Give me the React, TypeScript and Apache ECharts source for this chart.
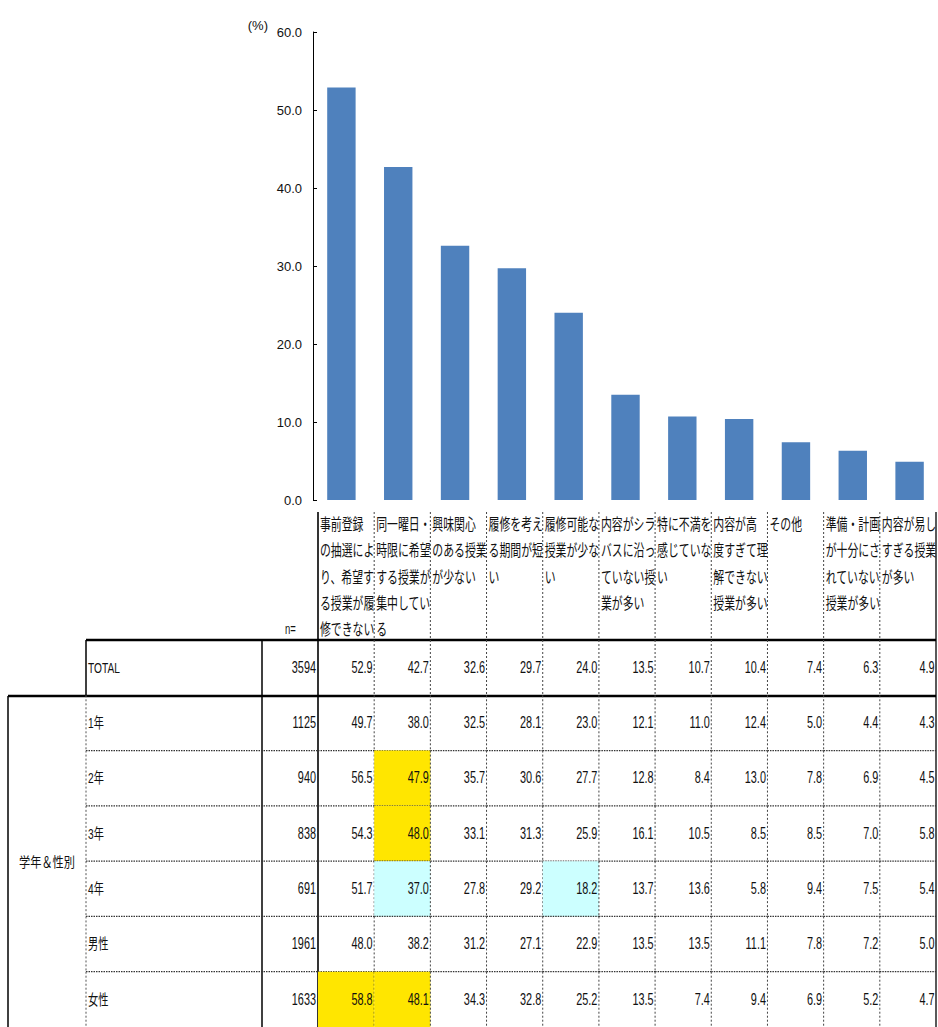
import React, { useEffect, useRef } from "react";
import * as echarts from "echarts";

// ---------------- data ----------------
const categories = [
  "事前登録\nの抽選によ\nり、希望す\nる授業が履\n修できない",
  "同一曜日・\n時限に希望\nする授業が\n集中してい\nる",
  "興味関心\nのある授業\nが少ない",
  "履修を考え\nる期間が短\nい",
  "履修可能な\n授業が少な\nい",
  "内容がシラ\nバスに沿っ\nていない授\n業が多い",
  "特に不満を\n感じていな\nい",
  "内容が高\n度すぎて理\n解できない\n授業が多い",
  "その他",
  "準備・計画\nが十分にさ\nれていない\n授業が多い",
  "内容が易し\nすぎる授業\nが多い",
];
const rowLabels = ["TOTAL", "1年", "2年", "3年", "4年", "男性", "女性"];
const rowN = [3594, 1125, 940, 838, 691, 1961, 1633];
const totalValues = [52.9, 42.7, 32.6, 29.7, 24.0, 13.5, 10.7, 10.4, 7.4, 6.3, 4.9];
const year1Values = [49.7, 38.0, 32.5, 28.1, 23.0, 12.1, 11.0, 12.4, 5.0, 4.4, 4.3];
const year2Values = [56.5, 47.9, 35.7, 30.6, 27.7, 12.8, 8.4, 13.0, 7.8, 6.9, 4.5];
const year3Values = [54.3, 48.0, 33.1, 31.3, 25.9, 16.1, 10.5, 8.5, 8.5, 7.0, 5.8];
const year4Values = [51.7, 37.0, 27.8, 29.2, 18.2, 13.7, 13.6, 5.8, 9.4, 7.5, 5.4];
const maleValues = [48.0, 38.2, 31.2, 27.1, 22.9, 13.5, 13.5, 11.1, 7.8, 7.2, 5.0];
const femaleValues = [58.8, 48.1, 34.3, 32.8, 25.2, 13.5, 7.4, 9.4, 6.9, 5.2, 4.7];
const groupLabel = "学年＆性別";
const unitLabel = "(%)";
const nLabel = "n=";
const yMin = 0;
const yMax = 60;
const yInterval = 10;

const tableRows = [totalValues, year1Values, year2Values, year3Values, year4Values, maleValues, femaleValues];

// ---------------- layout / style ----------------
const W = 938;
const H = 1027;
const PLOT_LEFT = 313;
const PLOT_TOP = 32;
const PLOT_W = 626;
const PLOT_H = 468;
const HEAD_TOP = 512;
const TABLE_LEFT = 318;
const TABLE_W = 618;
const TABLE_TOP = 640;
const ROW_H = 56;
const N_LEFT = 262;
const LABEL_LEFT = 86;
const GROUP_LEFT = 8;
const HEAD_LINE0 = 523;
const HEAD_LINE_H = 26.3;

const BAR_COLOR = "#4F81BD";
const YELLOW = "#FFE600";
const CYAN = "#CCFFFF";
const TEXT = "#111";
const NUM_FONT = "'Liberation Sans', Arial, 'Noto Sans CJK JP', sans-serif";
const JP_FONT = "'Noto Sans CJK JP', sans-serif";
const JP_SCALE = 0.68;
const NUM_SCALE = 0.68;

function txt(x: number, y: number, text: string, align: string, opts: any = {}) {
  return {
    type: "text",
    x,
    y,
    scaleX: opts.scaleX ?? NUM_SCALE,
    silent: true,
    style: {
      text,
      align,
      textAlign: align,
      verticalAlign: "middle",
      textVerticalAlign: "middle",
      fontSize: opts.fontSize ?? 16,
      fontFamily: opts.fontFamily ?? NUM_FONT,
      fill: TEXT,
    },
  };
}

function vline(x: number, y1: number, y2: number, dash: any, w = 1, color = "#333") {
  return {
    type: "line",
    silent: true,
    shape: { x1: x, y1, x2: x, y2 },
    style: { stroke: color, lineWidth: w, lineDash: dash },
  };
}
function hline(y: number, x1: number, x2: number, dash: any, w = 1, color = "#333") {
  return {
    type: "line",
    silent: true,
    shape: { x1, y1: y, x2, y2: y },
    style: { stroke: color, lineWidth: w, lineDash: dash },
  };
}

export default function App() {
  const ref = useRef<HTMLDivElement>(null);
  useEffect(() => {
    document.body.style.margin = "0";
    const chart = echarts.init(ref.current!, null, { renderer: "svg" });
    const nCols = categories.length;
    const nRows = rowLabels.length;

    const cellData: any[] = [];
    tableRows.forEach((row, r) => {
      row.forEach((v, c) => {
        const diff = v - totalValues[c];
        const hl = r === 0 ? 0 : diff >= 5 ? 1 : diff <= -5 ? 2 : 0;
        cellData.push([c, r, v, hl]);
      });
    });

    const option: any = {
      animation: false,
      backgroundColor: "#fff",
      grid: [
        { left: PLOT_LEFT, top: PLOT_TOP, width: PLOT_W, height: PLOT_H, containLabel: false },
        { left: TABLE_LEFT, top: TABLE_TOP, width: TABLE_W, height: ROW_H * nRows, containLabel: false },
      ],
      xAxis: [
        {
          type: "category",
          gridIndex: 0,
          data: categories,
          axisLine: { show: false },
          axisTick: { show: false },
          axisLabel: { show: false },
        },
        {
          type: "category",
          gridIndex: 1,
          data: categories,
          show: false,
        },
      ],
      yAxis: [
        {
          type: "value",
          gridIndex: 0,
          min: yMin,
          max: yMax,
          interval: yInterval,
          name: unitLabel,
          nameLocation: "end",
          nameGap: 7,
          nameTextStyle: {
            align: "right",
            verticalAlign: "middle",
            padding: [0, 45, 0, 0],
            fontSize: 13,
            fontFamily: NUM_FONT,
            color: TEXT,
          },
          axisLine: { show: true, lineStyle: { color: "#000", width: 1 } },
          axisTick: { show: true, inside: true, length: 4, lineStyle: { color: "#000" } },
          splitLine: { show: false },
          axisLabel: {
            margin: 11,
            fontSize: 13,
            fontFamily: NUM_FONT,
            color: TEXT,
            formatter: (v: number) => v.toFixed(1),
          },
        },
        {
          type: "category",
          gridIndex: 1,
          data: rowLabels,
          inverse: true,
          show: false,
        },
      ],
      series: [
        {
          type: "bar",
          xAxisIndex: 0,
          yAxisIndex: 0,
          data: totalValues,
          barWidth: "50%",
          itemStyle: { color: BAR_COLOR },
        },
        {
          // header labels of the table
          type: "custom",
          xAxisIndex: 1,
          yAxisIndex: 1,
          data: categories.map((_, c) => [c, 0]),
          renderItem: (params: any, api: any) => {
            const c = api.value(0);
            const p = api.coord([c, 0]);
            const s = api.size([1, 1]);
            const x0 = p[0] - s[0] / 2;
            const children: any[] = [];
            categories[c].split("\n").forEach((line, i) => {
              children.push(
                txt(x0 + 2, HEAD_LINE0 + i * HEAD_LINE_H, line, "left", {
                  fontFamily: JP_FONT,
                  fontSize: 16,
                  scaleX: JP_SCALE,
                })
              );
            });
            if (c < nCols - 1) children.push(vline(x0 + s[0], HEAD_TOP, TABLE_TOP, [2, 2], 1, "#444"));
            return { type: "group", children };
          },
        },
        {
          // data cells
          type: "custom",
          xAxisIndex: 1,
          yAxisIndex: 1,
          data: cellData,
          renderItem: (params: any, api: any) => {
            const c = api.value(0);
            const r = api.value(1);
            const v = api.value(2);
            const hl = api.value(3);
            const p = api.coord([c, r]);
            const s = api.size([1, 1]);
            const x0 = p[0] - s[0] / 2;
            const y0 = p[1] - s[1] / 2;
            const children: any[] = [];
            if (hl) {
              children.push({
                type: "rect",
                silent: true,
                shape: { x: x0, y: y0, width: s[0], height: s[1] },
                style: { fill: hl === 1 ? YELLOW : CYAN },
              });
            }
            children.push(txt(x0 + s[0] - 1.5, p[1], Number(v).toFixed(1), "right"));
            if (c < nCols - 1) children.push(vline(x0 + s[0], y0, y0 + s[1], [2, 2], 1, "#444"));
            if (r >= 1 && r < nRows - 1) children.push(hline(y0 + s[1], x0, x0 + s[0], [1.5, 1], 1.2, "#333"));
            return { type: "group", children };
          },
        },
        {
          // row labels and n
          type: "custom",
          xAxisIndex: 1,
          yAxisIndex: 1,
          data: rowLabels.map((_, r) => [0, r]),
          renderItem: (params: any, api: any) => {
            const r = api.value(1);
            const p = api.coord([0, r]);
            const s = api.size([1, 1]);
            const y0 = p[1] - s[1] / 2;
            const children: any[] = [];
            children.push(txt(LABEL_LEFT + 2, p[1], rowLabels[r], "left", { fontSize: 15 }));
            children.push(txt(TABLE_LEFT - 2, p[1], String(rowN[r]), "right"));
            if (r >= 1) children.push(vline(LABEL_LEFT, y0, y0 + s[1], [2, 2], 1, "#555"));
            if (r >= 1 && r < nRows - 1) children.push(hline(y0 + s[1], LABEL_LEFT, TABLE_LEFT, [1.5, 1], 1.2, "#333"));
            if (r === 1) {
              const yMid = y0 + (s[1] * (nRows - 1)) / 2;
              children.push(
                txt((GROUP_LEFT + LABEL_LEFT) / 2, yMid, groupLabel, "center", {
                  fontFamily: JP_FONT,
                  fontSize: 14,
                  scaleX: 0.8,
                })
              );
            }
            return { type: "group", children };
          },
        },
      ],
      graphic: [
        txt(285, 629, nLabel, "left", { fontSize: 14 }),
        vline(TABLE_LEFT, HEAD_TOP, H, null, 1.6, "#000"),
        vline(TABLE_LEFT + TABLE_W, HEAD_TOP, H, null, 1.3, "#000"),
        hline(TABLE_TOP, LABEL_LEFT, TABLE_LEFT + TABLE_W, null, 2.6, "#000"),
        hline(TABLE_TOP + ROW_H, GROUP_LEFT, TABLE_LEFT + TABLE_W, null, 2.6, "#000"),
        vline(LABEL_LEFT, TABLE_TOP, TABLE_TOP + ROW_H, null, 1.5, "#000"),
        vline(N_LEFT, TABLE_TOP, H, null, 1.5, "#000"),
        vline(GROUP_LEFT, TABLE_TOP + ROW_H, H, null, 1.5, "#000"),
      ],
    };
    chart.setOption(option);
    return () => chart.dispose();
  }, []);
  return <div ref={ref} style={{ width: W, height: H }} />;
}
